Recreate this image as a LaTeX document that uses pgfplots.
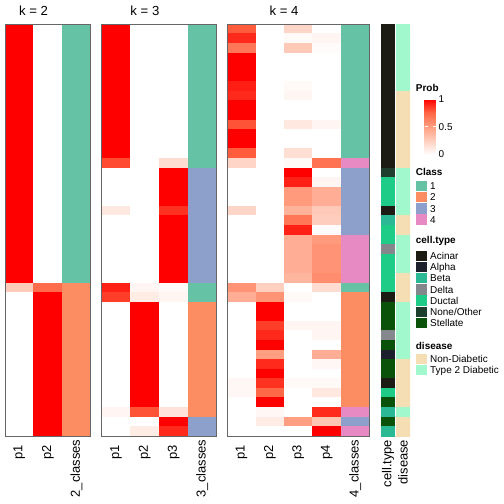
\documentclass[border=0pt]{standalone}
\usepackage{pgfplots}
\pgfplotsset{compat=1.18}
\usepackage{fontspec}
\setmainfont{Liberation Sans}
\definecolor{c1}{RGB}{102,194,165}
\definecolor{c2}{RGB}{252,141,98}
\definecolor{c3}{RGB}{141,160,203}
\definecolor{c4}{RGB}{231,138,195}
\definecolor{acinar}{RGB}{28,28,20}
\definecolor{alpha}{RGB}{28,32,44}
\definecolor{beta}{RGB}{43,184,148}
\definecolor{delta}{RGB}{132,136,140}
\definecolor{ductal}{RGB}{30,204,136}
\definecolor{noneother}{RGB}{30,62,46}
\definecolor{stellate}{RGB}{10,82,10}
\definecolor{nd}{RGB}{245,222,179}
\definecolor{tdd}{RGB}{160,248,204}
\pgfplotsset{
 colormap={prob}{rgb255(0cm)=(255,255,255) rgb255(0.25cm)=(255,207,191) rgb255(0.5cm)=(255,158,129) rgb255(0.75cm)=(255,104,70) rgb255(1cm)=(255,0,0)},
 colormap={ann}{rgb255(0cm)=(28,28,20) rgb255(0.3cm)=(28,28,20) rgb255(0.7cm)=(28,32,44) rgb255(1.3cm)=(28,32,44) rgb255(1.7cm)=(43,184,148) rgb255(2.3cm)=(43,184,148) rgb255(2.7cm)=(132,136,140) rgb255(3.3cm)=(132,136,140) rgb255(3.7cm)=(30,204,136) rgb255(4.3cm)=(30,204,136) rgb255(4.7cm)=(30,62,46) rgb255(5.3cm)=(30,62,46) rgb255(5.7cm)=(10,82,10) rgb255(6.3cm)=(10,82,10) rgb255(6.7cm)=(245,222,179) rgb255(7.3cm)=(245,222,179) rgb255(7.7cm)=(160,248,204) rgb255(8cm)=(160,248,204)},
 colormap={heat}{rgb255(0cm)=(255,255,255) rgb255(0.25cm)=(255,207,191) rgb255(0.5cm)=(255,158,129) rgb255(0.75cm)=(255,104,70) rgb255(1cm)=(255,0,0) rgb255(1.6cm)=(102,194,165) rgb255(2.4cm)=(102,194,165) rgb255(2.6cm)=(252,141,98) rgb255(3.4cm)=(252,141,98) rgb255(3.6cm)=(141,160,203) rgb255(4.4cm)=(141,160,203) rgb255(4.6cm)=(231,138,195) rgb255(5cm)=(231,138,195)},
 hm/.style={scale only axis, anchor=north west, height=412bp, y dir=reverse,
   ymin=-0.5, ymax=42.5, enlargelimits=false, xtick=\empty, ytick=\empty,
   axis on top, axis line style={draw=black!60, line width=0.6bp},
   colormap name=heat, point meta min=0, point meta max=5},
}
\tikzset{collab/.style={rotate=90, anchor=east, inner sep=0pt, font=\fontsize{13}{15}\selectfont},
 leglab/.style={anchor=base west, inner sep=0pt, font=\fontsize{10}{12}\selectfont},
 legtit/.style={anchor=base west, inner sep=0pt, font=\bfseries\fontsize{10}{12}\selectfont}}
\begin{document}
\begin{tikzpicture}
\useasboundingbox (0,0) rectangle (504bp,504bp);
% k = 2
\begin{axis}[hm, at={(5bp,480bp)}, width=85.7bp, xmin=-0.5, xmax=2.5]
\addplot[matrix plot*, mesh/cols=3, point meta=explicit] table[meta=c, row sep=\\] {
x y c\\
0 0 1\\ 1 0 0\\ 2 0 2\\
0 1 1\\ 1 1 0\\ 2 1 2\\
0 2 1\\ 1 2 0\\ 2 2 2\\
0 3 1\\ 1 3 0\\ 2 3 2\\
0 4 1\\ 1 4 0\\ 2 4 2\\
0 5 1\\ 1 5 0\\ 2 5 2\\
0 6 1\\ 1 6 0\\ 2 6 2\\
0 7 1\\ 1 7 0\\ 2 7 2\\
0 8 1\\ 1 8 0\\ 2 8 2\\
0 9 1\\ 1 9 0\\ 2 9 2\\
0 10 1\\ 1 10 0\\ 2 10 2\\
0 11 1\\ 1 11 0\\ 2 11 2\\
0 12 1\\ 1 12 0\\ 2 12 2\\
0 13 1\\ 1 13 0\\ 2 13 2\\
0 14 1\\ 1 14 0\\ 2 14 2\\
0 15 1\\ 1 15 0\\ 2 15 2\\
0 16 1\\ 1 16 0\\ 2 16 2\\
0 17 1\\ 1 17 0\\ 2 17 2\\
0 18 1\\ 1 18 0\\ 2 18 2\\
0 19 1\\ 1 19 0\\ 2 19 2\\
0 20 1\\ 1 20 0\\ 2 20 2\\
0 21 1\\ 1 21 0\\ 2 21 2\\
0 22 1\\ 1 22 0\\ 2 22 2\\
0 23 1\\ 1 23 0\\ 2 23 2\\
0 24 1\\ 1 24 0\\ 2 24 2\\
0 25 1\\ 1 25 0\\ 2 25 2\\
0 26 1\\ 1 26 0\\ 2 26 2\\
0 27 0.27\\ 1 27 0.73\\ 2 27 3\\
0 28 0\\ 1 28 1\\ 2 28 3\\
0 29 0\\ 1 29 1\\ 2 29 3\\
0 30 0\\ 1 30 1\\ 2 30 3\\
0 31 0\\ 1 31 1\\ 2 31 3\\
0 32 0\\ 1 32 1\\ 2 32 3\\
0 33 0\\ 1 33 1\\ 2 33 3\\
0 34 0\\ 1 34 1\\ 2 34 3\\
0 35 0\\ 1 35 1\\ 2 35 3\\
0 36 0\\ 1 36 1\\ 2 36 3\\
0 37 0\\ 1 37 1\\ 2 37 3\\
0 38 0\\ 1 38 1\\ 2 38 3\\
0 39 0\\ 1 39 1\\ 2 39 3\\
0 40 0\\ 1 40 1\\ 2 40 3\\
0 41 0\\ 1 41 1\\ 2 41 3\\
0 42 0\\ 1 42 1\\ 2 42 3\\
};
\end{axis}
% k = 3
\begin{axis}[hm, at={(101.7bp,480bp)}, width=115bp, xmin=-0.5, xmax=3.5]
\addplot[matrix plot*, mesh/cols=4, point meta=explicit] table[meta=c, row sep=\\] {
x y c\\
0 0 1\\ 1 0 0\\ 2 0 0\\ 3 0 2\\
0 1 1\\ 1 1 0\\ 2 1 0\\ 3 1 2\\
0 2 1\\ 1 2 0\\ 2 2 0\\ 3 2 2\\
0 3 1\\ 1 3 0\\ 2 3 0\\ 3 3 2\\
0 4 1\\ 1 4 0\\ 2 4 0\\ 3 4 2\\
0 5 1\\ 1 5 0\\ 2 5 0\\ 3 5 2\\
0 6 1\\ 1 6 0\\ 2 6 0\\ 3 6 2\\
0 7 1\\ 1 7 0\\ 2 7 0\\ 3 7 2\\
0 8 1\\ 1 8 0\\ 2 8 0\\ 3 8 2\\
0 9 1\\ 1 9 0\\ 2 9 0\\ 3 9 2\\
0 10 1\\ 1 10 0\\ 2 10 0\\ 3 10 2\\
0 11 1\\ 1 11 0\\ 2 11 0\\ 3 11 2\\
0 12 1\\ 1 12 0\\ 2 12 0\\ 3 12 2\\
0 13 1\\ 1 13 0\\ 2 13 0\\ 3 13 2\\
0 14 0.82\\ 1 14 0\\ 2 14 0.18\\ 3 14 2\\
0 15 0\\ 1 15 0\\ 2 15 1\\ 3 15 4\\
0 16 0\\ 1 16 0\\ 2 16 1\\ 3 16 4\\
0 17 0\\ 1 17 0\\ 2 17 1\\ 3 17 4\\
0 18 0\\ 1 18 0\\ 2 18 1\\ 3 18 4\\
0 19 0.12\\ 1 19 0\\ 2 19 0.88\\ 3 19 4\\
0 20 0\\ 1 20 0\\ 2 20 1\\ 3 20 4\\
0 21 0\\ 1 21 0\\ 2 21 1\\ 3 21 4\\
0 22 0\\ 1 22 0\\ 2 22 1\\ 3 22 4\\
0 23 0\\ 1 23 0\\ 2 23 1\\ 3 23 4\\
0 24 0\\ 1 24 0\\ 2 24 1\\ 3 24 4\\
0 25 0\\ 1 25 0\\ 2 25 1\\ 3 25 4\\
0 26 0\\ 1 26 0\\ 2 26 1\\ 3 26 4\\
0 27 0.92\\ 1 27 0.05\\ 2 27 0.03\\ 3 27 2\\
0 28 0.85\\ 1 28 0.1\\ 2 28 0.05\\ 3 28 2\\
0 29 0\\ 1 29 1\\ 2 29 0\\ 3 29 3\\
0 30 0\\ 1 30 1\\ 2 30 0\\ 3 30 3\\
0 31 0\\ 1 31 1\\ 2 31 0\\ 3 31 3\\
0 32 0\\ 1 32 1\\ 2 32 0\\ 3 32 3\\
0 33 0\\ 1 33 1\\ 2 33 0\\ 3 33 3\\
0 34 0\\ 1 34 1\\ 2 34 0\\ 3 34 3\\
0 35 0\\ 1 35 1\\ 2 35 0\\ 3 35 3\\
0 36 0\\ 1 36 1\\ 2 36 0\\ 3 36 3\\
0 37 0\\ 1 37 1\\ 2 37 0\\ 3 37 3\\
0 38 0\\ 1 38 1\\ 2 38 0\\ 3 38 3\\
0 39 0\\ 1 39 1\\ 2 39 0\\ 3 39 3\\
0 40 0.05\\ 1 40 0.8\\ 2 40 0.15\\ 3 40 3\\
0 41 0\\ 1 41 0\\ 2 41 1\\ 3 41 4\\
0 42 0\\ 1 42 0.1\\ 2 42 0.9\\ 3 42 4\\
};
\end{axis}
% k = 4
\begin{axis}[hm, at={(227.3bp,480bp)}, width=142bp, xmin=-0.5, xmax=4.5]
\addplot[matrix plot*, mesh/cols=5, point meta=explicit] table[meta=c, row sep=\\] {
x y c\\
0 0 0.78\\ 1 0 0\\ 2 0 0.22\\ 3 0 0\\ 4 0 2\\
0 1 0.9\\ 1 1 0\\ 2 1 0.03\\ 3 1 0.05\\ 4 1 2\\
0 2 0.68\\ 1 2 0\\ 2 2 0.28\\ 3 2 0.02\\ 4 2 2\\
0 3 1\\ 1 3 0\\ 2 3 0\\ 3 3 0\\ 4 3 2\\
0 4 1\\ 1 4 0\\ 2 4 0\\ 3 4 0\\ 4 4 2\\
0 5 1\\ 1 5 0\\ 2 5 0\\ 3 5 0\\ 4 5 2\\
0 6 0.93\\ 1 6 0\\ 2 6 0.03\\ 3 6 0\\ 4 6 2\\
0 7 0.9\\ 1 7 0\\ 2 7 0.05\\ 3 7 0\\ 4 7 2\\
0 8 1\\ 1 8 0\\ 2 8 0\\ 3 8 0\\ 4 8 2\\
0 9 1\\ 1 9 0\\ 2 9 0\\ 3 9 0\\ 4 9 2\\
0 10 0.8\\ 1 10 0\\ 2 10 0.12\\ 3 10 0.05\\ 4 10 2\\
0 11 1\\ 1 11 0\\ 2 11 0\\ 3 11 0\\ 4 11 2\\
0 12 1\\ 1 12 0\\ 2 12 0\\ 3 12 0\\ 4 12 2\\
0 13 0.78\\ 1 13 0\\ 2 13 0.17\\ 3 13 0\\ 4 13 2\\
0 14 0.22\\ 1 14 0\\ 2 14 0.03\\ 3 14 0.7\\ 4 14 5\\
0 15 0\\ 1 15 0\\ 2 15 1\\ 3 15 0\\ 4 15 4\\
0 16 0\\ 1 16 0\\ 2 16 0.92\\ 3 16 0.05\\ 4 16 4\\
0 17 0\\ 1 17 0\\ 2 17 0.52\\ 3 17 0.42\\ 4 17 4\\
0 18 0\\ 1 18 0\\ 2 18 0.52\\ 3 18 0.42\\ 4 18 4\\
0 19 0.22\\ 1 19 0\\ 2 19 0.4\\ 3 19 0.28\\ 4 19 4\\
0 20 0\\ 1 20 0\\ 2 20 0.68\\ 3 20 0.26\\ 4 20 4\\
0 21 0\\ 1 21 0\\ 2 21 0.92\\ 3 21 0.02\\ 4 21 4\\
0 22 0\\ 1 22 0\\ 2 22 0.42\\ 3 22 0.52\\ 4 22 5\\
0 23 0\\ 1 23 0\\ 2 23 0.42\\ 3 23 0.55\\ 4 23 5\\
0 24 0\\ 1 24 0\\ 2 24 0.42\\ 3 24 0.55\\ 4 24 5\\
0 25 0\\ 1 25 0\\ 2 25 0.42\\ 3 25 0.55\\ 4 25 5\\
0 26 0\\ 1 26 0\\ 2 26 0.38\\ 3 26 0.58\\ 4 26 5\\
0 27 0.55\\ 1 27 0.25\\ 2 27 0\\ 3 27 0.18\\ 4 27 2\\
0 28 0.42\\ 1 28 0.55\\ 2 28 0.03\\ 3 28 0\\ 4 28 3\\
0 29 0\\ 1 29 1\\ 2 29 0\\ 3 29 0\\ 4 29 3\\
0 30 0\\ 1 30 1\\ 2 30 0\\ 3 30 0\\ 4 30 3\\
0 31 0\\ 1 31 0.85\\ 2 31 0.05\\ 3 31 0.05\\ 4 31 3\\
0 32 0\\ 1 32 0.9\\ 2 32 0\\ 3 32 0.05\\ 4 32 3\\
0 33 0\\ 1 33 1\\ 2 33 0\\ 3 33 0\\ 4 33 3\\
0 34 0\\ 1 34 0.5\\ 2 34 0\\ 3 34 0.42\\ 4 34 3\\
0 35 0\\ 1 35 0.9\\ 2 35 0\\ 3 35 0.04\\ 4 35 3\\
0 36 0\\ 1 36 1\\ 2 36 0\\ 3 36 0\\ 4 36 3\\
0 37 0.04\\ 1 37 0.88\\ 2 37 0.03\\ 3 37 0.03\\ 4 37 3\\
0 38 0.04\\ 1 38 0.75\\ 2 38 0\\ 3 38 0.12\\ 4 38 3\\
0 39 0\\ 1 39 1\\ 2 39 0\\ 3 39 0\\ 4 39 3\\
0 40 0\\ 1 40 0.04\\ 2 40 0\\ 3 40 0.9\\ 4 40 5\\
0 41 0\\ 1 41 0.1\\ 2 41 0.5\\ 3 41 0.3\\ 4 41 4\\
0 42 0\\ 1 42 0\\ 2 42 0\\ 3 42 1\\ 4 42 5\\
};
\end{axis}
% annotations: cell.type (0-6), disease (7 = Non-Diabetic, 8 = Type 2 Diabetic)
\begin{axis}[hm, at={(381bp,480bp)}, width=29bp, xmin=-0.5, xmax=1.5,
  colormap name=ann, point meta min=0, point meta max=8, axis line style={draw=none}]
\addplot[matrix plot*, mesh/cols=2, point meta=explicit] table[meta=c, row sep=\\] {
x y c\\
0 0 0\\ 1 0 8\\
0 1 0\\ 1 1 8\\
0 2 0\\ 1 2 8\\
0 3 0\\ 1 3 8\\
0 4 0\\ 1 4 8\\
0 5 0\\ 1 5 8\\
0 6 0\\ 1 6 8\\
0 7 0\\ 1 7 7\\
0 8 0\\ 1 8 7\\
0 9 0\\ 1 9 7\\
0 10 0\\ 1 10 7\\
0 11 0\\ 1 11 7\\
0 12 0\\ 1 12 7\\
0 13 0\\ 1 13 7\\
0 14 0\\ 1 14 7\\
0 15 5\\ 1 15 8\\
0 16 4\\ 1 16 8\\
0 17 4\\ 1 17 8\\
0 18 4\\ 1 18 8\\
0 19 0\\ 1 19 8\\
0 20 2\\ 1 20 7\\
0 21 4\\ 1 21 7\\
0 22 4\\ 1 22 8\\
0 23 3\\ 1 23 8\\
0 24 4\\ 1 24 8\\
0 25 4\\ 1 25 8\\
0 26 4\\ 1 26 7\\
0 27 4\\ 1 27 7\\
0 28 0\\ 1 28 7\\
0 29 6\\ 1 29 8\\
0 30 6\\ 1 30 8\\
0 31 6\\ 1 31 8\\
0 32 3\\ 1 32 8\\
0 33 6\\ 1 33 8\\
0 34 1\\ 1 34 8\\
0 35 6\\ 1 35 7\\
0 36 6\\ 1 36 7\\
0 37 0\\ 1 37 7\\
0 38 4\\ 1 38 7\\
0 39 6\\ 1 39 7\\
0 40 2\\ 1 40 8\\
0 41 6\\ 1 41 7\\
0 42 2\\ 1 42 7\\
};
\draw[white, line width=1bp] (axis cs:0.5,-0.5) -- (axis cs:0.5,42.5);
\end{axis}
% Prob colour bar
\begin{axis}[at={(416bp,404.7bp)}, anchor=north west, scale only axis, width=11.3bp, height=55.2bp,
  hide axis, xmin=0, xmax=1, ymin=0, ymax=1, colormap name=prob, point meta min=0, point meta max=1,
  colorbar, colorbar style={at={(parent axis.north west)}, anchor=north west, width=11.3bp, height=55.2bp,
    axis line style={draw=none}, ytick={0,0.5,1}, yticklabels={0,0.5,1},
    tick align=inside, major tick length=3bp, major tick style={white, line width=0.8bp},
    yticklabel style={font=\fontsize{10}{12}\selectfont, inner sep=0pt, anchor=west, xshift=2.7bp}}]
\addplot[draw=none] coordinates {(0,0)};
\end{axis}
% titles
\node[anchor=base, inner sep=0pt, font=\fontsize{13.2}{15}\selectfont] at (33.5bp,488.7bp) {k = 2};
\node[anchor=base, inner sep=0pt, font=\fontsize{13.2}{15}\selectfont] at (144.9bp,488.7bp) {k = 3};
\node[anchor=base, inner sep=0pt, font=\fontsize{13.2}{15}\selectfont] at (284bp,488.7bp) {k = 4};
% column labels
\foreach \x/\t in {19.3/p1, 47.9/p2, 116.1/p1, 144.8/p2, 173.6/p3, 241.5/p1, 269.9/p2, 298.3/p3, 326.7/p4}
  \node[collab] at (\x bp,58.7bp) {\t};
\foreach \x/\t in {76.4/2\_classes, 202.3/3\_classes, 355.1/4\_classes, 388/cell.type, 403/disease}
  \node[collab] at (\x bp,64.4bp) {\t};
% legends
\node[legtit] at (415.7bp,412bp) {Prob};
\node[legtit] at (415.7bp,328bp) {Class};
\foreach \i/\c in {0/c1,1/c2,2/c3,3/c4} {
  \fill[\c] (416bp,{(323-11.15*\i)*1bp}) rectangle (427.3bp,{(312.7-11.15*\i)*1bp});
  \pgfmathtruncatemacro{\n}{\i+1}
  \node[leglab] at (430bp,{(314.3-11.15*\i)*1bp}) {\n};
}
\node[legtit] at (415.7bp,260bp) {cell.type};
\foreach \i/\c/\t in {0/acinar/{Acinar},1/alpha/{Alpha},2/beta/{Beta},3/delta/{Delta},4/ductal/{Ductal},5/noneother/{None/Other},6/stellate/{Stellate}} {
  \fill[\c] (416bp,{(253.3-11.2*\i)*1bp}) rectangle (427.3bp,{(243-11.2*\i)*1bp});
  \node[leglab] at (430bp,{(244.55-11.2*\i)*1bp}) {\t};
}
\node[legtit] at (415.7bp,154.7bp) {disease};
\foreach \i/\c/\t in {0/nd/{Non-Diabetic},1/tdd/{Type 2 Diabetic}} {
  \fill[\c] (416bp,{(150-11.2*\i)*1bp}) rectangle (427.3bp,{(139.7-11.2*\i)*1bp});
  \node[leglab] at (430bp,{(141.25-11.2*\i)*1bp}) {\t};
}
\end{tikzpicture}
\end{document}
